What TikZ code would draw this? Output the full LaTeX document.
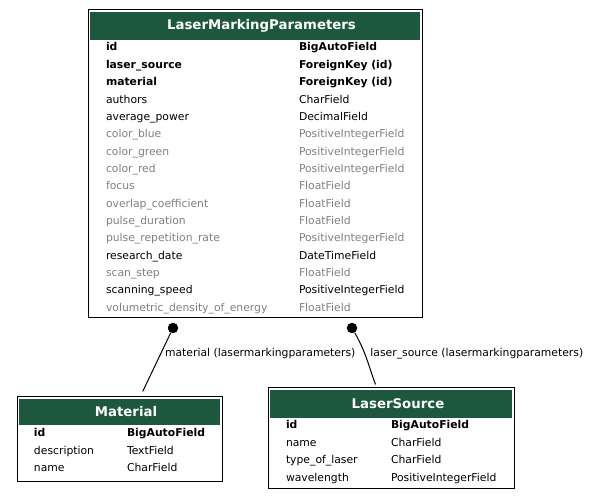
\documentclass[tikz,border=0pt]{standalone}
\usepackage{fontspec}
\setmainfont{DejaVu Sans}
\usetikzlibrary{positioning}

\definecolor{headgreen}{RGB}{28,87,62}
\definecolor{nullgray}{RGB}{128,128,128}
\newcommand\fieldfont{\fontsize{10.8}{13}\selectfont}
\newcommand\headfont{\fontsize{13.3}{16}\selectfont\bfseries}

\begin{document}
\begin{tikzpicture}[x=1pt,y=1pt,node distance=17.35pt,
    table node/.style={draw,line width=1pt,inner sep=0pt},
    head node/.style={fill=headgreen,text=white,font=\headfont,inner sep=0pt},
    key node/.style={font=\fieldfont\bfseries,inner sep=0pt,text height=8.2pt,text depth=2.5pt,align=left},
    field node/.style={key node,font=\fieldfont},
    null node/.style={field node,text=nullgray},
    dot node/.style={circle,fill,inner sep=0pt,minimum size=10.5pt},
    label node/.style={font=\fieldfont,inner sep=0pt}]
    \useasboundingbox (0,0) rectangle (589,500);

    % tables
    \node[table node, minimum width=334pt, minimum height=308pt] (lmp) at (255,336) {};
    \node[head node, minimum width=330pt, minimum height=28pt, below=2pt of lmp.north] (lmph) {\hspace{13pt}LaserMarkingParameters};

    \node[table node, minimum width=205pt, minimum height=85pt] (mat) at (119.5,60.5) {};
    \node[head node, minimum width=201pt, minimum height=26pt, below=2pt of mat.north] (math) {\hspace{13pt}Material};

    \node[table node, minimum width=246pt, minimum height=101pt] (ls) at (391,61.5) {};
    \node[head node, minimum width=242pt, minimum height=28pt, below=2pt of ls.north] (lsh) {\hspace{14pt}LaserSource};

    % LaserMarkingParameters fields
    \begin{scope}[text width=190pt, type col/.style={node distance=193pt}]
        \node[key node] (p1) at (201,451.85) {id};
        \node[key node] (p2) [below of = p1] {laser\_source};
        \node[key node] (p3) [below of = p2] {material};
        \node[field node] (p4) [below of = p3] {authors};
        \node[field node] (p5) [below of = p4] {average\_power};
        \node[null node] (p6) [below of = p5] {color\_blue};
        \node[null node] (p7) [below of = p6] {color\_green};
        \node[null node] (p8) [below of = p7] {color\_red};
        \node[null node] (p9) [below of = p8] {focus};
        \node[null node] (p10) [below of = p9] {overlap\_coefficient};
        \node[null node] (p11) [below of = p10] {pulse\_duration};
        \node[null node] (p12) [below of = p11] {pulse\_repetition\_rate};
        \node[field node] (p13) [below of = p12] {research\_date};
        \node[null node] (p14) [below of = p13] {scan\_step};
        \node[field node] (p15) [below of = p14] {scanning\_speed};
        \node[null node] (p16) [below of = p15] {volumetric\_density\_of\_energy};

        \node[key node, type col] (t1) [right of = p1] {BigAutoField};
        \node[key node, type col] (t2) [right of = p2] {ForeignKey (id)};
        \node[key node, type col] (t3) [right of = p3] {ForeignKey (id)};
        \node[field node, type col] (t4) [right of = p4] {CharField};
        \node[field node, type col] (t5) [right of = p5] {DecimalField};
        \node[null node, type col] (t6) [right of = p6] {PositiveIntegerField};
        \node[null node, type col] (t7) [right of = p7] {PositiveIntegerField};
        \node[null node, type col] (t8) [right of = p8] {PositiveIntegerField};
        \node[null node, type col] (t9) [right of = p9] {FloatField};
        \node[null node, type col] (t10) [right of = p10] {FloatField};
        \node[null node, type col] (t11) [right of = p11] {FloatField};
        \node[null node, type col] (t12) [right of = p12] {PositiveIntegerField};
        \node[field node, type col] (t13) [right of = p13] {DateTimeField};
        \node[null node, type col] (t14) [right of = p14] {FloatField};
        \node[field node, type col] (t15) [right of = p15] {PositiveIntegerField};
        \node[null node, type col] (t16) [right of = p16] {FloatField};
    \end{scope}

    % Material fields
    \begin{scope}[text width=90pt, type col/.style={node distance=93pt}]
        \node[key node] (m1) at (79,65.85) {id};
        \node[field node] (m2) [below of = m1] {description};
        \node[field node] (m3) [below of = m2] {name};

        \node[key node, type col] (mt1) [right of = m1] {BigAutoField};
        \node[field node, type col] (mt2) [right of = m2] {TextField};
        \node[field node, type col] (mt3) [right of = m3] {CharField};
    \end{scope}

    % LaserSource fields
    \begin{scope}[text width=100pt, type col/.style={node distance=105pt}]
        \node[key node] (s1) at (336,73.85) {id};
        \node[field node] (s2) [below of = s1] {name};
        \node[field node] (s3) [below of = s2] {type\_of\_laser};
        \node[field node] (s4) [below of = s3] {wavelength};

        \node[key node, type col] (st1) [right of = s1] {BigAutoField};
        \node[field node, type col] (st2) [right of = s2] {CharField};
        \node[field node, type col] (st3) [right of = s3] {CharField};
        \node[field node, type col] (st4) [right of = s4] {PositiveIntegerField};
    \end{scope}

    % relations
    \node[dot node] (d1) at (173,172) {};
    \node[dot node] (d2) at (352,172) {};

    \draw[line width=1pt] (d1) -- node[label node, pos=.36, anchor=west, xshift=4pt]{material (lasermarkingparameters)} ([xshift=23.2pt, yshift=5pt]mat.north);
    \draw[line width=1pt] (d2) to[out=-60, in=110] node[label node, pos=.42, anchor=west, xshift=5pt]{laser\_source (lasermarkingparameters)} ([xshift=-15.5pt, yshift=3pt]ls.north);
\end{tikzpicture}
\end{document}
